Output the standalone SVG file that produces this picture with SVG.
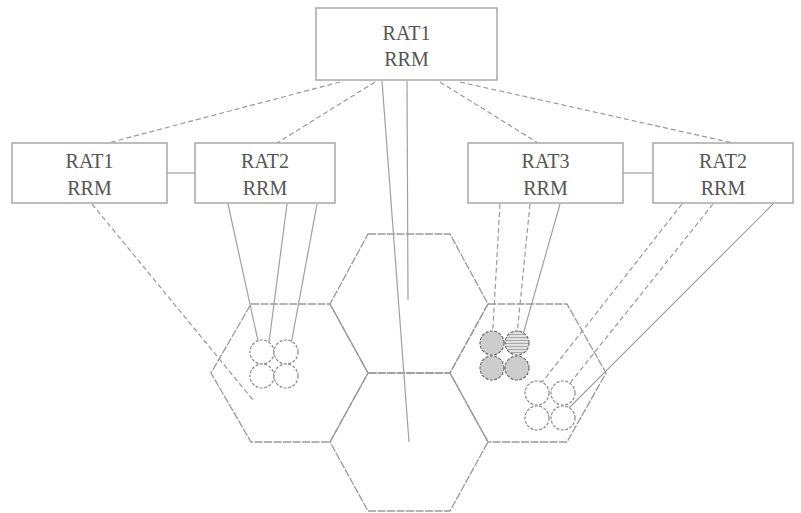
<svg xmlns="http://www.w3.org/2000/svg" width="801" height="513" viewBox="0 0 801 513">
  <style>
    .box { fill: #fff; stroke: #a8a8a8; stroke-width: 1.5; }
    .lbl { font-family: "Liberation Serif", "Times New Roman", serif; font-size: 20px; fill: #555; text-anchor: middle; }
    .hex { fill: none; stroke: #9a9a9a; stroke-width: 1.3; stroke-dasharray: 8 1.5; }
    .link { fill: none; stroke: #9a9a9a; stroke-width: 1.2; stroke-dasharray: 5 3; }
    .solid { fill: none; stroke: #a0a0a0; stroke-width: 1.2; }
    .ue { fill: #fff; stroke: #8a8a8a; stroke-width: 1.2; stroke-dasharray: 3 1.5; }
    .ue-busy { fill: #cdcdcd; stroke: #6e6e6e; stroke-width: 1.2; stroke-dasharray: 3 1.5; }
    .ue-hatch { fill: url(#hatch); stroke: #6e6e6e; stroke-width: 1.2; stroke-dasharray: 3 1.5; }
  </style>

  <defs>
    <pattern id="hatch" width="4" height="3" patternUnits="userSpaceOnUse">
      <rect width="4" height="3" fill="#e2e2e2"/>
      <line x1="0" y1="1.5" x2="4" y2="1.5" stroke="#9a9a9a" stroke-width="0.8"/>
    </pattern>
  </defs>

  <rect width="801" height="513" fill="#fff"/>

  <!-- cell layout: flat-topped hexagons -->
  <g id="cells">
    <polygon class="hex" points="368,234 450,234 488,304 450,373 368,373 330,304"/>
    <polygon class="hex" points="368,373 450,373 488,442 450,511 368,511 330,442"/>
    <polygon class="hex" points="251,304 330,304 368,373 330,442 251,442 211,373"/>
    <polygon class="hex" points="488,304 567,304 606,373 567,442 488,442 450,373"/>
  </g>

  <g id="connectors">
    <!-- central RRM to the local RRMs -->
    <line class="link" x1="340" y1="82" x2="108" y2="143"/>
    <line class="link" x1="375" y1="82" x2="277" y2="143"/>
    <line class="link" x1="440" y1="82" x2="538" y2="143"/>
    <line class="link" x1="460" y1="82" x2="733" y2="143"/>
    <!-- central RRM down to the middle cells -->
    <line class="solid" x1="407" y1="81" x2="408" y2="300"/>
    <line class="solid" x1="382" y1="81" x2="409" y2="442"/>
    <!-- peer links -->
    <line class="solid" x1="167" y1="173" x2="195" y2="173"/>
    <line class="solid" x1="623" y1="173" x2="653" y2="173"/>
    <!-- RAT1 RRM into the left cell -->
    <line class="link" x1="92" y1="204" x2="253" y2="400"/>
    <!-- RAT2 RRM (left) to its terminals -->
    <line class="solid" x1="228" y1="204" x2="260" y2="350"/>
    <line class="solid" x1="287" y1="204" x2="268" y2="350"/>
    <line class="solid" x1="317" y1="204" x2="290" y2="350"/>
    <!-- RAT3 RRM to its terminals -->
    <line class="link" x1="500" y1="204" x2="492" y2="345"/>
    <line class="link" x1="530" y1="204" x2="516" y2="345"/>
    <line class="solid" x1="560" y1="204" x2="522" y2="338"/>
    <!-- RAT2 RRM (right) to its terminals -->
    <line class="link" x1="682" y1="204" x2="536" y2="390"/>
    <line class="link" x1="713" y1="204" x2="563" y2="392"/>
    <line class="solid" x1="773" y1="204" x2="562" y2="415"/>
  </g>

  <g id="terminals-left">
    <circle class="ue" cx="262" cy="352" r="12"/>
    <circle class="ue" cx="286" cy="352" r="12"/>
    <circle class="ue" cx="262" cy="376" r="12"/>
    <circle class="ue" cx="286" cy="376" r="12"/>
  </g>

  <g id="terminals-rat3">
    <circle class="ue-busy" cx="492" cy="343" r="12"/>
    <circle class="ue-hatch" cx="517" cy="343" r="12"/>
    <circle class="ue-busy" cx="492" cy="368" r="12"/>
    <circle class="ue-busy" cx="517" cy="368" r="12"/>
  </g>

  <g id="terminals-right">
    <circle class="ue" cx="537" cy="393" r="12"/>
    <circle class="ue" cx="563" cy="393" r="12"/>
    <circle class="ue" cx="537" cy="418" r="12"/>
    <circle class="ue" cx="563" cy="418" r="12"/>
  </g>

  <g id="rrm-central">
    <rect class="box" x="316" y="8" width="181" height="72"/>
    <text class="lbl" x="406.5" y="40">RAT1</text>
    <text class="lbl" x="406.5" y="66">RRM</text>
  </g>

  <g id="rrm-rat1">
    <rect class="box" x="12" y="143" width="155" height="60"/>
    <text class="lbl" x="89.5" y="168">RAT1</text>
    <text class="lbl" x="89.5" y="195">RRM</text>
  </g>

  <g id="rrm-rat2-left">
    <rect class="box" x="195" y="143" width="140" height="60"/>
    <text class="lbl" x="265" y="168">RAT2</text>
    <text class="lbl" x="265" y="195">RRM</text>
  </g>

  <g id="rrm-rat3">
    <rect class="box" x="468" y="143" width="155" height="60"/>
    <text class="lbl" x="545.5" y="168">RAT3</text>
    <text class="lbl" x="545.5" y="195">RRM</text>
  </g>

  <g id="rrm-rat2-right">
    <rect class="box" x="653" y="143" width="140" height="60"/>
    <text class="lbl" x="723" y="168">RAT2</text>
    <text class="lbl" x="723" y="195">RRM</text>
  </g>
</svg>
